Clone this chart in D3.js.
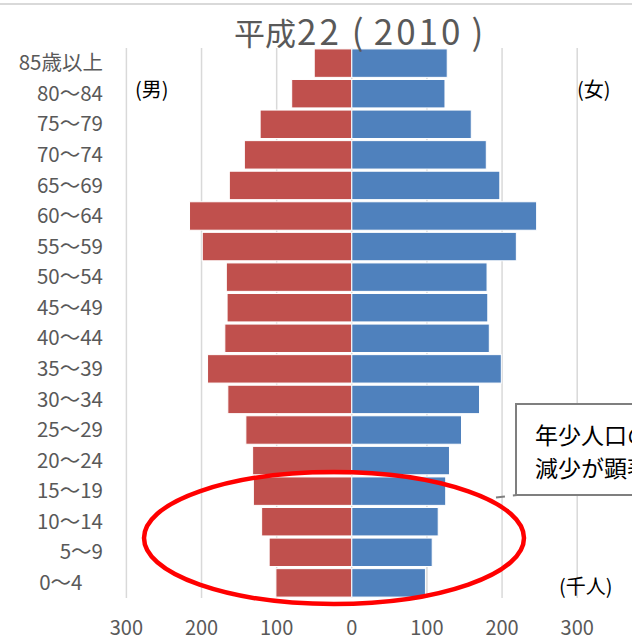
<!DOCTYPE html>
<html>
<head>
<meta charset="utf-8">
<script src="https://cdnjs.cloudflare.com/ajax/libs/d3/7.8.5/d3.min.js"></script>
<style>
  body { margin: 0; background: #fff; }
  svg { display: block; font-family: "Noto Sans CJK JP", "Noto Sans", sans-serif; }
</style>
</head>
<body>
<div id="chart"></div>
<script>
var width = 632,
    height = 641;

// age groups, bottom to top
const ages = ['0～4　', '5～9', '10～14', '15～19', '20～24', '25～29', '30～34', '35～39',
    '40～44', '45～49', '50～54', '55～59', '60～64', '65～69', '70～74', '75～79', '80～84', '85歳以上'];

// thousands of people
const male = [101, 110, 120, 131, 132, 141, 165, 192, 169, 166, 167, 199, 216, 163, 143, 122, 80, 50];
const female = [98, 107, 115, 125, 130, 146, 170, 199, 183, 181, 180, 219, 246, 197, 179, 159, 124, 127];

const tickValues = [-300, -200, -100, 0, 100, 200, 300];

// title pieces: text, gap before, letter spacing, font size
const titleParts = [['平成', 0, 0, 31], ['22', 1, 3, 35], ['(', 10, 0, 35], ['2010', 10, 3, 35], [')', 8, 0, 35]];
const calloutLines = ['年少人口の', '減少が顕著'];

const maleColor = '#C0504D',
    femaleColor = '#4F81BD',
    gridColor = '#d9d9d9',
    textColor = '#595959';

var data = ages.map((a, i) => ({ age: a, male: male[i], female: female[i] }));

var x = d3.scaleLinear()
    .domain([-300, 300])
    .range([126.4, 577.2]);

var y = d3.scaleBand()
    .domain(ages.slice().reverse())
    .range([48, 598])
    .paddingInner(0.07)
    .paddingOuter(0.03);

var svg = d3.select('#chart').append('svg')
    .attr('width', width)
    .attr('height', height);

// top border line
svg.append('line')
    .attr('x1', 0).attr('x2', width)
    .attr('y1', 4).attr('y2', 4)
    .attr('stroke', gridColor)
    .attr('stroke-width', 2);

// gridlines
svg.selectAll('.grid')
    .data(tickValues)
    .enter()
    .append('line')
    .attr('class', 'grid')
    .attr('x1', d => x(d)).attr('x2', d => x(d))
    .attr('y1', 48).attr('y2', 598)
    .attr('stroke', gridColor)
    .attr('stroke-width', 1.5);

// bars
svg.selectAll('.bar-m')
    .data(data)
    .enter()
    .append('rect')
    .attr('class', 'bar-m')
    .attr('x', d => x(-d.male))
    .attr('y', d => y(d.age))
    .attr('width', d => x(0) - x(-d.male))
    .attr('height', y.bandwidth())
    .attr('fill', maleColor)
    .attr('stroke', '#fff')
    .attr('stroke-width', 1);

svg.selectAll('.bar-f')
    .data(data)
    .enter()
    .append('rect')
    .attr('class', 'bar-f')
    .attr('x', x(0))
    .attr('y', d => y(d.age))
    .attr('width', d => x(d.female) - x(0))
    .attr('height', y.bandwidth())
    .attr('fill', femaleColor)
    .attr('stroke', '#fff')
    .attr('stroke-width', 1);

// age labels
svg.selectAll('.age')
    .data(ages)
    .enter()
    .append('text')
    .attr('class', 'age')
    .attr('x', 103)
    .attr('y', d => y(d) + y.bandwidth() / 2)
    .attr('dy', '0.35em')
    .attr('text-anchor', 'end')
    .attr('fill', textColor)
    .attr('font-size', 20.5)
    .style('white-space', 'pre')
    .text(d => d);

// bottom axis labels
svg.selectAll('.tick-label')
    .data(tickValues)
    .enter()
    .append('text')
    .attr('class', 'tick-label')
    .attr('x', d => x(d))
    .attr('y', 635)
    .attr('text-anchor', 'middle')
    .attr('fill', textColor)
    .attr('font-size', 20)
    .text(d => Math.abs(d));

// title
var titleText = svg.append('text')
    .attr('x', 234)
    .attr('y', 45)
    .attr('fill', textColor);

titleText.selectAll('tspan')
    .data(titleParts)
    .enter()
    .append('tspan')
    .attr('dx', d => d[1])
    .attr('letter-spacing', d => d[2])
    .attr('font-size', d => d[3])
    .text(d => d[0]);

// side labels
svg.append('text')
    .attr('x', 135).attr('y', 97)
    .attr('font-size', 20)
    .attr('fill', '#000')
    .text('(男)');

svg.append('text')
    .attr('x', 577).attr('y', 97)
    .attr('font-size', 20)
    .attr('fill', '#000')
    .text('(女)');

svg.append('text')
    .attr('x', 559).attr('y', 594)
    .attr('font-size', 20)
    .attr('fill', '#000')
    .text('(千人)');

// red ellipse round the young ages
svg.append('ellipse')
    .attr('cx', 334).attr('cy', 538)
    .attr('rx', 190).attr('ry', 66)
    .attr('fill', 'none')
    .attr('stroke', '#FF0000')
    .attr('stroke-width', 4.5);

// callout
svg.append('line')
    .attr('x1', 496).attr('y1', 497.5)
    .attr('x2', 517).attr('y2', 495)
    .attr('stroke', '#7f7f7f')
    .attr('stroke-width', 2)
    .attr('stroke-dasharray', '9,8');

svg.append('rect')
    .attr('x', 516).attr('y', 404)
    .attr('width', 140).attr('height', 91)
    .attr('fill', '#fff')
    .attr('stroke', '#7f7f7f')
    .attr('stroke-width', 2);

svg.selectAll('.callout')
    .data(calloutLines)
    .enter()
    .append('text')
    .attr('class', 'callout')
    .attr('x', 535)
    .attr('y', (d, i) => 444 + i * 33)
    .attr('font-size', 23)
    .attr('fill', '#000')
    .text(d => d);
</script>
</body>
</html>
